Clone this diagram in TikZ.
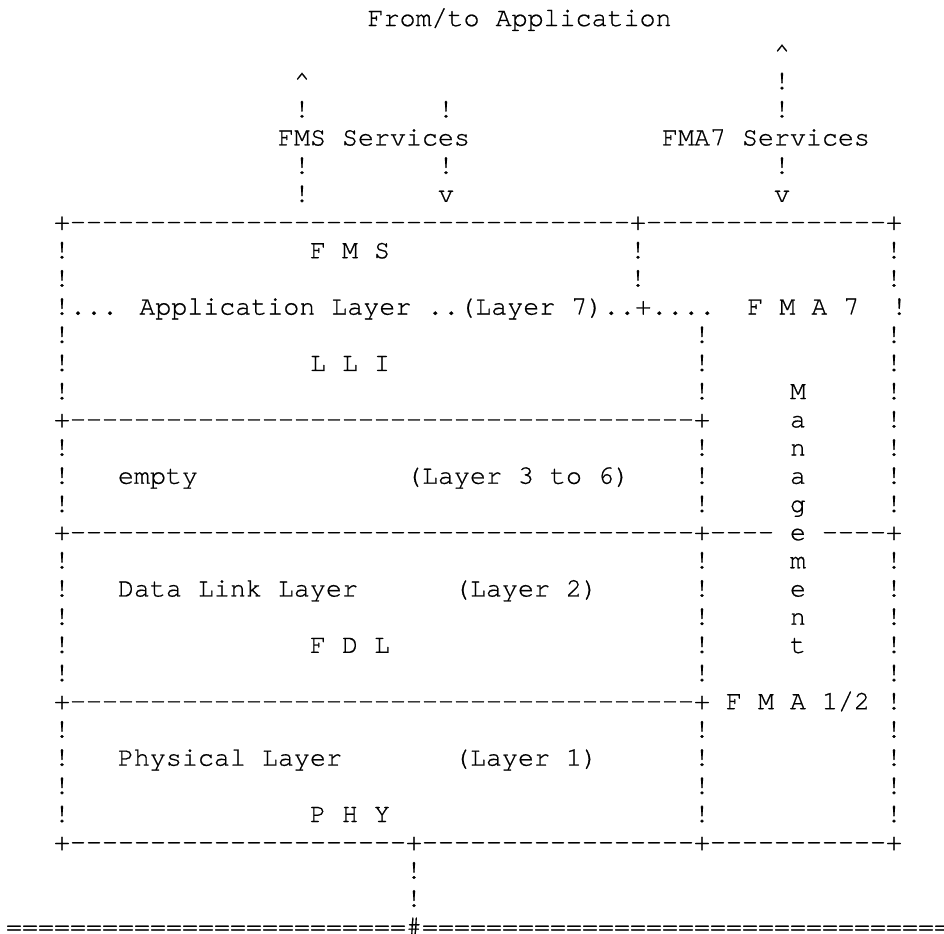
\documentclass[tikz,border=0pt]{standalone}
\usepackage{fontspec}
\newfontfamily\asc{texgyrecursor-regular.otf}[FakeBold=0.7]
\ExplSyntaxOn
\cs_new:Npn \myrep #1#2 { \prg_replicate:nn {#1} {#2} }
\ExplSyntaxOff
\newcommand\SP[1]{\myrep{#1}{\ }}
\newcommand\DS[1]{\myrep{#1}{-{}}}
\newcommand\EQ[1]{\myrep{#1}{=}}
\newcommand\UP{\textasciicircum}
\tikzset{
  asciiline/.style={anchor=base west,inner sep=0pt,outer sep=0pt,font=\asc\fontsize{20pt}{20pt}\selectfont,text=black},
}
\newcommand\row[3]{\node[asciiline] (#1) at (6,{230+28.19*(#2-8)}) {#3};}
\begin{document}
\begin{tikzpicture}[x=0.75pt,y=-0.75pt]
\fill[white] (0,0) rectangle (944,933);
\useasboundingbox (0,0) rectangle (944,933);
\node[asciiline] (l1) at (367.6,26) {From/to Application};
\row{l2}{2}{\SP{48}\UP}
\row{l3}{3}{\SP{18}\UP\SP{29}!}
\row{l4}{4}{\SP{18}!\SP{8}!\SP{20}!}
\row{l5}{5}{\SP{17}FMS Services\SP{12}FMA7 Services}
\row{l6}{6}{\SP{18}!\SP{8}!\SP{20}!}
\row{l7}{7}{\SP{18}!\SP{8}v\SP{20}v}
\row{l8}{8}{\SP{3}+\DS{35}+\DS{15}+}
\row{l9}{9}{\SP{3}!\SP{15}F M S\SP{15}!\SP{15}!}
\row{l10}{10}{\SP{3}!\SP{35}!\SP{15}!}
\row{l11}{11}{\SP{3}!... Application Layer ..(Layer 7)..+....\SP{2}F M A 7\SP{2}!}
\row{l12}{12}{\SP{3}!\SP{39}!\SP{11}!}
\row{l13}{13}{\SP{3}!\SP{15}L L I\SP{19}!\SP{11}!}
\row{l14}{14}{\SP{3}!\SP{39}!\SP{5}M\SP{5}!}
\row{l15}{15}{\SP{3}+\DS{39}+\SP{5}a\SP{5}!}
\row{l16}{16}{\SP{3}!\SP{39}!\SP{5}n\SP{5}!}
\row{l17}{17}{\SP{3}!\SP{3}empty\SP{13}(Layer 3 to 6)\SP{4}!\SP{5}a\SP{5}!}
\row{l18}{18}{\SP{3}!\SP{39}!\SP{5}g\SP{5}!}
\row{l19}{19}{\SP{3}+\DS{39}+\DS{4}\ e\ \DS{4}+}
\row{l20}{20}{\SP{3}!\SP{39}!\SP{5}m\SP{5}!}
\row{l21}{21}{\SP{3}!\SP{3}Data Link Layer\SP{6}(Layer 2)\SP{6}!\SP{5}e\SP{5}!}
\row{l22}{22}{\SP{3}!\SP{39}!\SP{5}n\SP{5}!}
\row{l23}{23}{\SP{3}!\SP{15}F D L\SP{19}!\SP{5}t\SP{5}!}
\row{l24}{24}{\SP{3}!\SP{39}!\SP{11}!}
\row{l25}{25}{\SP{3}+\DS{39}+\ F M A 1/2\ !}
\row{l26}{26}{\SP{3}!\SP{39}!\SP{11}!}
\row{l27}{27}{\SP{3}!\SP{3}Physical Layer\SP{7}(Layer 1)\SP{6}!\SP{11}!}
\row{l28}{28}{\SP{3}!\SP{39}!\SP{11}!}
\row{l29}{29}{\SP{3}!\SP{15}P H Y\SP{19}!\SP{11}!}
\row{l30}{30}{\SP{3}+\DS{21}+\DS{17}+\DS{11}+}
\row{l31}{31}{\SP{25}!}
\row{l32}{32}{\SP{25}!}
\row{l33}{33}{\EQ{25}\#\EQ{34}}
\end{tikzpicture}
\end{document}
